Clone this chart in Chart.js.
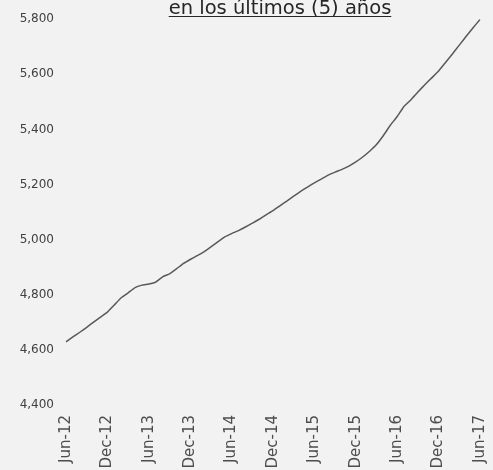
<!DOCTYPE html>
<html>
<head>
<meta charset="utf-8">
<script src="https://cdn.jsdelivr.net/npm/chart.js@4"></script>
<style>
  html, body { margin: 0; padding: 0; background: #f2f2f2; overflow: hidden; }
  #wrap { width: 493px; height: 470px; }
</style>
</head>
<body>
<div id="wrap"><canvas id="chart" width="493" height="470"></canvas></div>
<script>
const months = [
  "Jun-12", "Jul-12", "Aug-12", "Sep-12", "Oct-12", "Nov-12", "Dec-12",
  "Jan-13", "Feb-13", "Mar-13", "Apr-13", "May-13", "Jun-13", "Jul-13", "Aug-13", "Sep-13", "Oct-13", "Nov-13", "Dec-13",
  "Jan-14", "Feb-14", "Mar-14", "Apr-14", "May-14", "Jun-14", "Jul-14", "Aug-14", "Sep-14", "Oct-14", "Nov-14", "Dec-14",
  "Jan-15", "Feb-15", "Mar-15", "Apr-15", "May-15", "Jun-15", "Jul-15", "Aug-15", "Sep-15", "Oct-15", "Nov-15", "Dec-15",
  "Jan-16", "Feb-16", "Mar-16", "Apr-16", "May-16", "Jun-16", "Jul-16", "Aug-16", "Sep-16", "Oct-16", "Nov-16", "Dec-16",
  "Jan-17", "Feb-17", "Mar-17", "Apr-17", "May-17", "Jun-17"
];

const values = [
  4629, 4647, 4664, 4682, 4701, 4719, 4737,
  4763, 4789, 4807, 4826, 4835, 4839, 4846, 4865, 4876, 4894, 4913, 4928,
  4942, 4956, 4974, 4992, 5010, 5022, 5033, 5046, 5060, 5074, 5090, 5105,
  5123, 5140, 5158, 5175, 5191, 5206, 5220, 5234, 5245, 5255, 5267, 5282,
  5300, 5321, 5345, 5378, 5415, 5447, 5484, 5508, 5536, 5562, 5587, 5612,
  5643, 5674, 5706, 5738, 5769, 5799
];

const yMin = 4400;
const yMax = 5800;
const yStep = 200;
const titleText = "en los últimos (5) años";

const titlePlugin = {
  id: "underTitle",
  afterDraw(chart) {
    const ctx = chart.ctx;
    ctx.save();
    ctx.font = '19.5px "DejaVu Sans"';
    ctx.fillStyle = "#262626";
    ctx.textAlign = "center";
    ctx.textBaseline = "alphabetic";
    const cx = 280;
    ctx.fillText(titleText, cx, 14);
    const w = ctx.measureText(titleText).width;
    ctx.strokeStyle = "#262626";
    ctx.lineWidth = 1;
    ctx.beginPath();
    ctx.moveTo(cx - w / 2, 16.5);
    ctx.lineTo(cx + w / 2, 16.5);
    ctx.stroke();
    ctx.restore();
  }
};

const ctx = document.getElementById("chart").getContext("2d");
new Chart(ctx, {
  type: "line",
  data: {
    labels: months,
    datasets: [
      {
        data: values,
        borderColor: "#595959",
        borderWidth: 1.5,
        pointRadius: 0,
        tension: 0.1,
        fill: false,
      },
    ],
  },
  options: {
    responsive: false,
    animation: false,
    layout: { padding: { top: 18, right: 13, left: 0, bottom: 0 } },
    plugins: {
      legend: { display: false },
      tooltip: { enabled: false },
    },
    scales: {
      x: {
        grid: { display: false, drawTicks: false },
        border: { display: false },
        afterFit: function (scale) {
          scale.height = 65;
          scale.paddingLeft = 0;
          scale.paddingRight = 0;
        },
        ticks: {
          autoSkip: false,
          maxRotation: 90,
          minRotation: 90,
          padding: 10,
          color: "#4d4d4d",
          font: { family: "DejaVu Sans", size: 15 },
          callback: function (val, i) {
            return i % 6 === 0 ? months[i] : null;
          },
        },
      },
      y: {
        min: yMin,
        max: yMax,
        grid: { display: false, drawTicks: false },
        border: { display: false },
        afterFit: function (scale) { scale.width = 66; },
        ticks: {
          stepSize: yStep,
          padding: 12,
          color: "#404040",
          font: { family: "DejaVu Sans", size: 12 },
          callback: function (v) { return v.toLocaleString("en-US"); },
        },
      },
    },
  },
  plugins: [titlePlugin],
});
</script>
</body>
</html>
